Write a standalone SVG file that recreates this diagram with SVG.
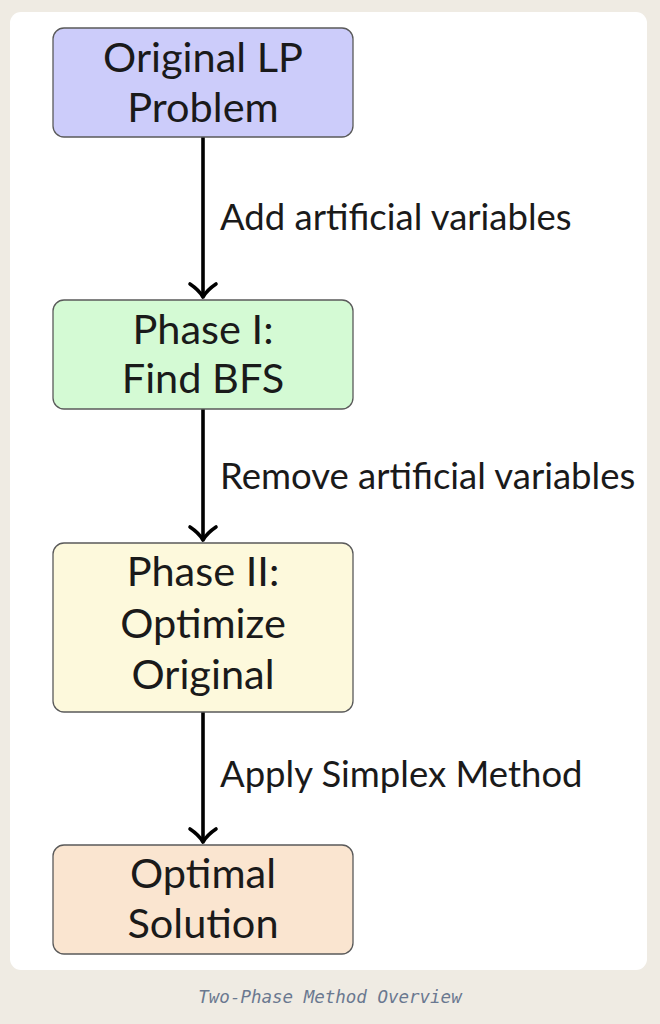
<svg xmlns="http://www.w3.org/2000/svg" width="660" height="1024" viewBox="0 0 660 1024">
<defs>
<style>
.node rect{stroke:#5a5a5a;stroke-width:1.3}
.node text,.lbl{font-family:Lato,"Noto Sans",sans-serif;fill:#1a1a1a}
.node text{text-anchor:middle;font-size:41.5px}
.lbl{font-size:36.5px}
.edge line{stroke:#000;stroke-width:3.6}
.edge path{fill:none;stroke:#000;stroke-width:3.6;stroke-linecap:round;stroke-linejoin:round}
</style>
</defs>
<rect x="0" y="0" width="660" height="1024" fill="#efebe3"/>
<rect x="10" y="12" width="637" height="958" rx="11" fill="#ffffff"/>
<g id="connectors" class="edge">
<line x1="203" y1="137" x2="203" y2="296"/>
<path d="M190,284 Q199,290 203,297 Q207,290 216,284"/>
<line x1="203" y1="409" x2="203" y2="539"/>
<path d="M190,527 Q199,533 203,540 Q207,533 216,527"/>
<line x1="203" y1="712" x2="203" y2="841"/>
<path d="M190,829 Q199,835 203,842 Q207,835 216,829"/>
<text class="lbl" x="220" y="230">Add artificial variables</text>
<text class="lbl" x="220" y="489">Remove artificial variables</text>
<text class="lbl" x="220" y="787">Apply Simplex Method</text>
</g>
<g id="n1" class="node">
<rect x="53" y="28" width="300" height="109" rx="11" fill="#ccccfa"/>
<text x="203" y="72">Original LP</text>
<text x="203" y="122">Problem</text>
</g>
<g id="n2" class="node">
<rect x="53" y="300" width="300" height="109" rx="11" fill="#d4fad4"/>
<text x="203" y="344">Phase I:</text>
<text x="203" y="393">Find BFS</text>
</g>
<g id="n3" class="node">
<rect x="53" y="543" width="300" height="169" rx="11" fill="#fdf9dc"/>
<text x="203" y="586">Phase II:</text>
<text x="203" y="638">Optimize</text>
<text x="203" y="689">Original</text>
</g>
<g id="n4" class="node">
<rect x="53" y="845" width="300" height="109" rx="11" fill="#fae5d0"/>
<text x="203" y="888">Optimal</text>
<text x="203" y="938">Solution</text>
</g>
<text x="330" y="1003" text-anchor="middle" font-family="'DejaVu Sans Mono','Liberation Mono',monospace" font-style="italic" font-size="17.5" fill="#6a7890">Two-Phase Method Overview</text>
</svg>
